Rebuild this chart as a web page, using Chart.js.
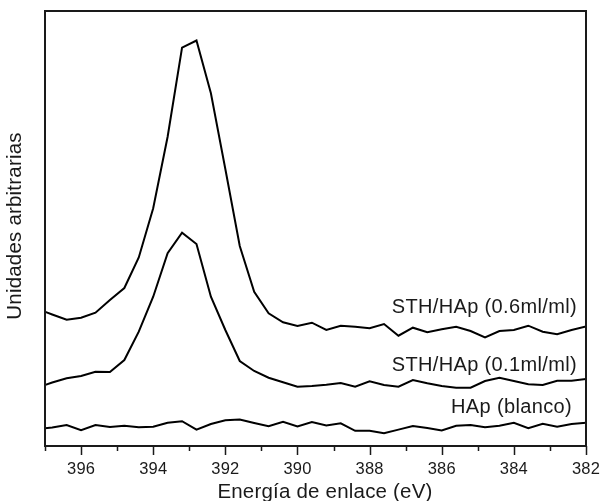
<!DOCTYPE html>
<html>
<head>
<meta charset="utf-8">
<title>XPS N1s</title>
<script src="https://cdn.jsdelivr.net/npm/chart.js@4.4.1/dist/chart.umd.min.js"></script>
<style>
  body { margin: 0; background: #fff; }
  #wrap { width: 602px; height: 501px; position: relative; }
</style>
</head>
<body>
<div id="wrap"><canvas id="xpsChart"></canvas></div>
<script>
// Binding energy (eV)
const energia = [397.2, 396.8, 396.4, 396.0, 395.6, 395.2, 394.8, 394.4, 394.0, 393.6,
                 393.2, 392.8, 392.4, 392.0, 391.6, 391.2, 390.8, 390.4, 390.0, 389.6,
                 389.2, 388.8, 388.4, 388.0, 387.6, 387.2, 386.8, 386.4, 386.0, 385.6,
                 385.2, 384.8, 384.4, 384.0, 383.6, 383.2, 382.8, 382.4, 382.0];

// Intensities (arbitrary units, offset stacked)
const sth06 = [137, 131.5, 126.3, 128.3, 133.3, 146, 158, 188.5, 237.7, 309.3,
               398.3, 405.5, 352.7, 277, 200, 154.3, 132.7, 123.7, 120, 123.3,
               116, 120.3, 119.3, 117.7, 122, 110.3, 118.3, 113.7, 116.7, 119.3,
               115, 108.7, 115, 116, 120.3, 114.3, 111.7, 116, 119.5];
const sth01 = [58.5, 63.5, 67.7, 70, 74.3, 74, 86, 114.3, 149.3, 192.7,
               213.3, 202, 149.3, 116, 85, 75, 68.3, 63.7, 59.3, 60,
               61.3, 63, 59.3, 64.7, 61, 59.3, 66, 62.7, 60, 58.3,
               58.3, 65, 68.3, 65, 61.7, 61, 65.3, 65.3, 67];
const hapBlanco = [17, 18.5, 21, 15.7, 21, 19, 20.3, 18.7, 19.3, 23.3,
                   24.8, 16.3, 22, 25.8, 26.4, 23, 19.8, 24.3, 19.5, 24,
                   20.5, 22.7, 15.2, 15.3, 12.7, 16.4, 20, 18, 15.5, 20.3,
                   21, 18.7, 20.3, 23.3, 17.7, 22.3, 19.3, 22, 23.3];

const seriesNames = ["STH/HAp (0.6ml/ml)", "STH/HAp (0.1ml/ml)", "HAp (blanco)"];
const majorTicks = [396, 394, 392, 390, 388, 386, 384, 382];
const minorTicks = [397, 395, 393, 391, 389, 387, 385, 383];

function toPoints(vals) {
    return vals.map((v, i) => ({ x: energia[i], y: v }));
}

const FONT = "'Liberation Sans', Arial, sans-serif";
const INK = '#1a1a1a';

// frame, ticks, titles and curve labels
const decorations = {
    id: 'decorations',
    afterDraw(chart) {
        const ctx = chart.ctx;
        const a = chart.chartArea;
        const xs = chart.scales.x;
        ctx.save();
        ctx.strokeStyle = INK;
        ctx.lineWidth = 2;
        ctx.strokeRect(a.left, a.top, a.right - a.left, a.bottom - a.top);

        // ticks (outward)
        ctx.lineWidth = 1.5;
        ctx.beginPath();
        majorTicks.forEach(t => {
            const px = Math.round(xs.getPixelForValue(t)) + 0.5;
            ctx.moveTo(px, a.bottom);
            ctx.lineTo(px, a.bottom + 9);
        });
        minorTicks.forEach(t => {
            const px = Math.round(xs.getPixelForValue(t)) + 0.5;
            ctx.moveTo(px, a.bottom);
            ctx.lineTo(px, a.bottom + 5);
        });
        ctx.stroke();

        ctx.fillStyle = INK;
        ctx.textAlign = 'center';
        ctx.textBaseline = 'alphabetic';
        ctx.font = '16.5px ' + FONT;
        ctx.letterSpacing = '0.2px';
        majorTicks.forEach(t => {
            ctx.fillText(String(t), xs.getPixelForValue(t), 474);
        });

        // axis titles
        ctx.font = '20.5px ' + FONT;
        ctx.letterSpacing = '0.2px';
        ctx.fillText('Energía de enlace (eV)', 325, 498);

        ctx.save();
        ctx.translate(21, 226);
        ctx.rotate(-Math.PI / 2);
        ctx.fillText('Unidades arbitrarias', 0, 0);
        ctx.restore();

        // curve labels
        ctx.textAlign = 'right';
        ctx.font = '20px ' + FONT;
        ctx.letterSpacing = '0.35px';
        ctx.fillText(seriesNames[0], 577, 313);
        ctx.fillText(seriesNames[1], 577, 371);
        ctx.fillText(seriesNames[2], 572, 413);
        ctx.restore();
    }
};

const ctx = document.getElementById('xpsChart').getContext('2d');
new Chart(ctx, {
    type: 'line',
    data: {
        datasets: [
            { label: seriesNames[0], data: toPoints(sth06) },
            { label: seriesNames[1], data: toPoints(sth01) },
            { label: seriesNames[2], data: toPoints(hapBlanco) }
        ].map(d => Object.assign(d, {
            borderColor: '#000',
            borderWidth: 2,
            pointRadius: 0,
            tension: 0,
            fill: false
        }))
    },
    options: {
        responsive: true,
        maintainAspectRatio: false,
        animation: false,
        layout: { padding: { left: 45, right: 16, top: 11, bottom: 55 } },
        plugins: { legend: { display: false }, tooltip: { enabled: false } },
        scales: {
            x: { type: 'linear', min: 382, max: 397, reverse: true, display: false },
            y: { min: 0, max: 435, display: false }
        }
    },
    plugins: [decorations]
});
</script>
</body>
</html>
